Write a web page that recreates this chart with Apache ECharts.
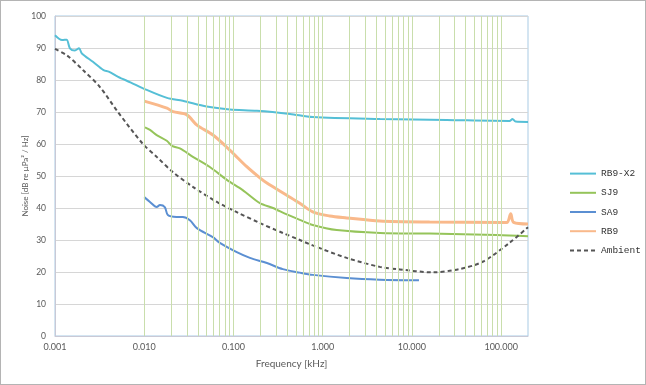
<!DOCTYPE html>
<html>
<head>
<meta charset="utf-8">
<script src="https://cdn.jsdelivr.net/npm/echarts@6/dist/echarts.min.js"></script>
<style>
html,body{margin:0;padding:0;background:#fff;}
#wrap{width:646px;height:385px;box-sizing:border-box;border:1px solid #b4b4b4;position:relative;}
#chart{position:absolute;left:-1px;top:-1px;width:646px;height:385px;}
</style>
</head>
<body>
<div id="wrap"><div id="chart"></div></div>
<script>
// ---- data (frequency in kHz, noise in dB re µPa²/Hz) ----
var seriesNames = ['RB9-X2', 'SJ9', 'SA9', 'RB9', 'Ambient'];
var xTickLabels = ['0.001', '0.010', '0.100', '1.000', '10.000', '100.000'];
var yTickLabels = [0, 10, 20, 30, 40, 50, 60, 70, 80, 90, 100];

var freqRB9X2 = [0.001, 0.0012, 0.00135, 0.00147, 0.00167, 0.00186, 0.002, 0.00266, 0.0035, 0.0040, 0.0051, 0.0071, 0.0097, 0.018, 0.027, 0.050, 0.091, 0.183, 0.43, 0.775, 4.4, 24.5, 124, 134, 145, 200];
var valRB9X2  = [94.0, 92.5, 92.6, 89.9, 89.2, 89.9, 88.3, 85.7, 83.1, 82.6, 81.0, 79.2, 77.4, 74.4, 73.5, 71.7, 70.8, 70.4, 69.4, 68.4, 67.8, 67.5, 67.2, 67.8, 67.0, 66.9];

var freqSJ9 = [0.0102, 0.0116, 0.0138, 0.0179, 0.0204, 0.0251, 0.0351, 0.0544, 0.0844, 0.127, 0.198, 0.277, 0.396, 0.554, 0.774, 1.44, 4.4, 15.8, 89, 200];
var valSJ9  = [65.2, 64.4, 62.8, 61.0, 59.4, 58.6, 56.0, 52.8, 48.8, 45.6, 41.5, 40.0, 38.0, 36.3, 34.7, 33.1, 32.2, 32.0, 31.6, 31.2];

var freqSA9 = [0.0100, 0.0116, 0.0138, 0.015, 0.017, 0.0184, 0.023, 0.027, 0.0325, 0.0389, 0.0587, 0.0704, 0.109, 0.153, 0.237, 0.357, 0.554, 0.774, 1.86, 4.36, 12.0];
var valSA9  = [43.4, 41.9, 40.3, 40.9, 40.3, 37.8, 37.2, 37.2, 36.2, 33.7, 30.9, 29.1, 26.2, 24.4, 22.8, 20.9, 19.8, 19.1, 18.1, 17.6, 17.4];

var freqRB9 = [0.0100, 0.018, 0.021, 0.030, 0.039, 0.059, 0.091, 0.141, 0.198, 0.237, 0.396, 0.554, 0.774, 1.2, 1.86, 4.36, 15.8, 104, 117, 128, 138, 200];
var valRB9  = [73.4, 71.2, 70.1, 69.1, 65.9, 62.8, 58.1, 52.9, 49.4, 47.8, 44.0, 41.5, 38.8, 37.5, 36.9, 35.9, 35.6, 35.5, 35.5, 38.2, 35.5, 35.0];

var freqAmb = [0.001, 0.00136, 0.00206, 0.00319, 0.00507, 0.00967, 0.0139, 0.021, 0.0351, 0.0652, 0.109, 0.198, 0.357, 0.554, 0.774, 1.86, 4.36, 7.3, 17.0, 34.0, 62.0, 124, 200];
var valAmb  = [89.7, 87.7, 83.1, 77.8, 70.0, 60.0, 55.9, 51.2, 46.6, 41.9, 38.7, 35.3, 32.2, 30.0, 28.3, 24.4, 21.6, 20.8, 19.9, 20.9, 23.2, 29.1, 34.0];

function pairs(f, v) { return f.map(function (x, i) { return [x, v[i]]; }); }

// minor log grid values (1..9 x each decade)
var minorGrid = [];
for (var e = -3; e <= 2; e++) {
  for (var k = 1; k <= 9; k++) {
    var val = k * Math.pow(10, e);
    if (val > 0.001 * 1.0001 && val < 200 * 0.9999) minorGrid.push({ xAxis: val });
  }
}

var colors = ['#55bfd6', '#95c45a', '#5b8fd2', '#f9b98b', '#555555'];

var chart = echarts.init(document.getElementById('chart'));
chart.setOption({
  animation: false,
  backgroundColor: 'transparent',
  grid: { left: 55, right: 118, top: 16, bottom: 49, show: true, borderColor: '#a9cbe4', borderWidth: 1, backgroundColor: 'transparent' },
  legend: {
    orient: 'vertical',
    left: 569,
    top: 168,
    padding: 0,
    itemWidth: 26,
    itemHeight: 14,
    itemGap: 8,
    itemStyle: { color: 'transparent', borderWidth: 0 },
    textStyle: { fontFamily: 'Liberation Mono', fontSize: 9.5, color: '#333', padding: [0, 0, 0, 0] },
    data: seriesNames
  },
  xAxis: {
    type: 'log',
    logBase: 10,
    min: 0.001,
    max: 200,
    name: 'Frequency [kHz]',
    nameLocation: 'middle',
    nameGap: 23,
    nameMoveOverlap: false,
    nameTextStyle: { fontFamily: 'Lato', fontSize: 10, color: '#595959' },
    axisLine: { show: true, lineStyle: { color: '#c9c9d6', width: 1 } },
    axisTick: { show: false },
    splitLine: { show: false },
    axisLabel: {
      margin: 7,
      fontFamily: 'Lato', fontSize: 9, color: '#595959',
      showMaxLabel: false,
      formatter: function (v) {
        var idx = Math.round(Math.log10(v)) + 3;
        return xTickLabels[idx] !== undefined ? xTickLabels[idx] : '';
      }
    }
  },
  yAxis: {
    type: 'value',
    min: 0,
    max: 100,
    interval: 10,
    name: 'Noise [dB re µPa² / Hz]',
    nameLocation: 'middle',
    nameGap: 26,
    nameMoveOverlap: false,
    nameTextStyle: { fontFamily: 'Lato', fontSize: 8, color: '#595959' },
    axisLine: { show: true, lineStyle: { color: '#c9c9d6', width: 1 } },
    axisTick: { show: false },
    splitLine: { show: true, lineStyle: { color: '#d6d6d6', width: 1 } },
    axisLabel: {
      margin: 9,
      fontFamily: 'Lato', fontSize: 8.5, color: '#595959',
      formatter: function (v) { return yTickLabels.indexOf(v) >= 0 ? String(v) : ''; }
    }
  },
  series: [
    {
      name: '_grid', type: 'line', data: [], silent: true, z: 1,
      markLine: {
        silent: true, symbol: ['none', 'none'], label: { show: false },
        lineStyle: { color: '#c9deac', width: 1, type: 'solid' },
        emphasis: { disabled: true },
        data: minorGrid
      }
    },
    { name: seriesNames[0], type: 'line', data: pairs(freqRB9X2, valRB9X2), symbol: 'none', smooth: 0.3, z: 3, color: colors[0], lineStyle: { width: 2, color: colors[0] } },
    { name: seriesNames[1], type: 'line', data: pairs(freqSJ9, valSJ9), symbol: 'none', smooth: 0.3, z: 3, color: colors[1], lineStyle: { width: 2, color: colors[1] } },
    { name: seriesNames[2], type: 'line', data: pairs(freqSA9, valSA9), symbol: 'none', smooth: 0.3, z: 3, color: colors[2], lineStyle: { width: 2, color: colors[2] } },
    { name: seriesNames[3], type: 'line', data: pairs(freqRB9, valRB9), symbol: 'none', smooth: 0.3, z: 3, color: colors[3], lineStyle: { width: 3, color: colors[3] } },
    { name: seriesNames[4], type: 'line', data: pairs(freqAmb, valAmb), symbol: 'none', smooth: 0.3, z: 4, color: colors[4], lineStyle: { width: 2, color: colors[4], type: [4, 3] } }
  ]
});
</script>
</body>
</html>
